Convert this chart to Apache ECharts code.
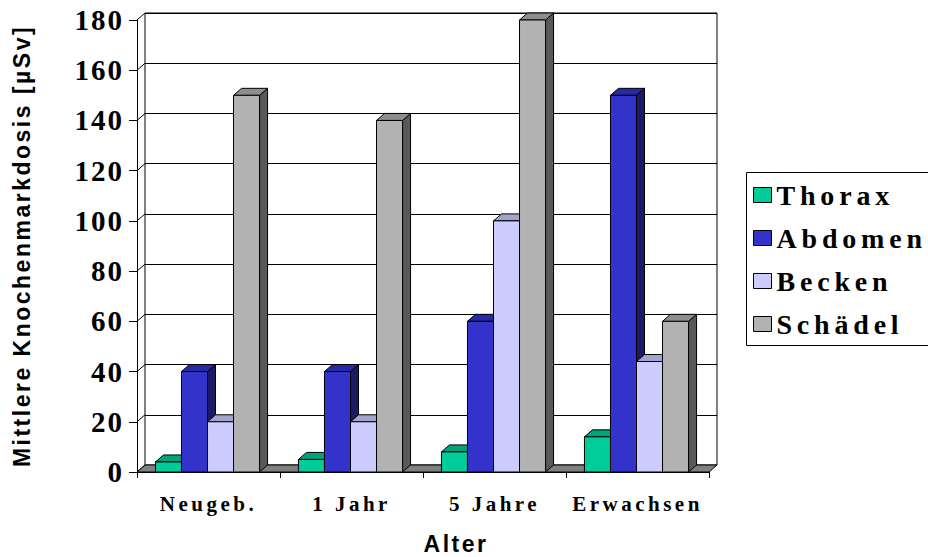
<!DOCTYPE html>
<html>
<head>
<meta charset="utf-8">
<script src="https://cdn.jsdelivr.net/npm/echarts@6/dist/echarts.min.js"></script>
<style>
  html, body { margin: 0; padding: 0; background: #fff; }
  #chart { width: 928px; height: 557px; }
</style>
</head>
<body>
<div id="chart"></div>
<script>
// Mean bone-marrow dose by age group and examined body region
const categories = ['Neugeb.', '1 Jahr', '5 Jahre', 'Erwachsen'];
const seriesNames = ['Thorax', 'Abdomen', 'Becken', 'Schädel'];
const thorax   = [4, 5, 8, 14];
const abdomen  = [40, 40, 60, 150];
const becken   = [20, 20, 100, 44];
const schaedel = [150, 140, 180, 60];
const yTicks = [0, 20, 40, 60, 80, 100, 120, 140, 160, 180];
const xTitle = 'Alter';
const yTitle = 'Mittlere Knochenmarkdosis [µSv]';

// face colours: front, top, side
const palette = [
  ['#00CC99', '#00A37A', '#00664C'],
  ['#3333CC', '#2929A3', '#1A1A66'],
  ['#CCCCFF', '#A3A3CC', '#666680'],
  ['#B2B2B2', '#8E8E8E', '#595959']
];
const values = [thorax, abdomen, becken, schaedel];

// depth offset of the pseudo-3D box
const DX = 8, DY = -7;
const BAR_RATIO = 0.182;

const serif = "'Liberation Serif', 'Times New Roman', serif";
const sans = "'Liberation Sans', Arial, sans-serif";

const chart = echarts.init(document.getElementById('chart'), null, { renderer: 'svg' });

function barRenderer(k) {
  return function (params, api) {
    const ci = api.value(0);
    const v = api.value(1);
    const band = api.size([1, 0])[0];
    const w = band * BAR_RATIO;
    const c = api.coord([ci, 0]);
    const t = api.coord([ci, v]);
    const x0 = c[0] - 2 * w - 1 + k * w;
    const x1 = x0 + w;
    const yb = c[1], yt = t[1];
    const cols = palette[k];
    const stroke = { stroke: '#000', lineWidth: 1 };
    return {
      type: 'group',
      children: [
        { type: 'polygon', shape: { points: [[x1, yt], [x1 + DX, yt + DY], [x1 + DX, yb + DY], [x1, yb]] },
          style: Object.assign({ fill: cols[2] }, stroke) },
        { type: 'polygon', shape: { points: [[x0, yt], [x1, yt], [x1 + DX, yt + DY], [x0 + DX, yt + DY]] },
          style: Object.assign({ fill: cols[1] }, stroke) },
        { type: 'rect', shape: { x: x0, y: yt, width: w, height: yb - yt },
          style: Object.assign({ fill: cols[0] }, stroke) }
      ]
    };
  };
}

const barSeries = seriesNames.map((name, k) => ({
  name: name,
  type: 'custom',
  xAxisIndex: 0, yAxisIndex: 0,
  itemStyle: { color: palette[k][0], borderColor: '#000', borderWidth: 1 },
  renderItem: barRenderer(k),
  encode: { x: 0, y: 1 },
  data: values[k].map((v, i) => [i, v]),
  z: 5 + k
}));

// floor slab under the columns
const floorSeries = {
  type: 'custom',
  xAxisIndex: 0, yAxisIndex: 0,
  silent: true,
  renderItem: function (params, api) {
    const band = api.size([1, 0])[0];
    const a = api.coord([0, 0]);
    const b = api.coord([categories.length - 1, 0]);
    const l = a[0] - band / 2, r = b[0] + band / 2, y = a[1];
    return {
      type: 'polygon',
      shape: { points: [[l, y], [r, y], [r + DX, y + DY], [l + DX, y + DY]] },
      style: { fill: '#808080', stroke: '#000', lineWidth: 1 }
    };
  },
  data: [[0, 0]],
  z: 3
};

// left side wall: lines running from each front tick to the back wall
const wallSeries = {
  type: 'custom',
  xAxisIndex: 0, yAxisIndex: 0,
  silent: true,
  renderItem: function (params, api) {
    const band = api.size([1, 0])[0];
    const p = api.coord([0, api.value(0)]);
    const x = p[0] - band / 2;
    return {
      type: 'line',
      shape: { x1: x, y1: p[1], x2: x + DX, y2: p[1] + DY },
      style: { stroke: '#000', lineWidth: 1 }
    };
  },
  data: yTicks.map(v => [v]),
  encode: { y: 0 },
  z: 2
};

chart.setOption({
  animation: false,
  backgroundColor: '#fff',
  grid: [
    { left: 137, top: 20, width: 572, height: 452, show: false, containLabel: false, outerBoundsMode: 'none' },
    { left: 145, top: 13, width: 572, height: 452, show: true, containLabel: false, outerBoundsMode: 'none',
      borderColor: '#000', borderWidth: 1, backgroundColor: 'transparent' }
  ],
  xAxis: [
    {
      gridIndex: 0, type: 'category', data: categories,
      boundaryGap: true,
      axisLine: { show: true, lineStyle: { color: '#000', width: 1 } },
      axisTick: { show: true, length: 6, lineStyle: { color: '#000' } },
      axisLabel: { margin: 21, color: '#000', fontFamily: serif, fontWeight: 'bold', fontSize: 21 },
      name: xTitle, nameLocation: 'middle', nameGap: 60,
      nameTextStyle: { color: '#000', fontFamily: sans, fontWeight: 'bold', fontSize: 23, padding: [0, 0, 0, 66] }
    },
    { gridIndex: 1, type: 'category', data: categories, show: false }
  ],
  yAxis: [
    {
      gridIndex: 0, type: 'value', min: 0, max: 180, interval: 20,
      axisLine: { show: true, lineStyle: { color: '#000', width: 1 } },
      axisTick: { show: true, inside: false, length: 8, lineStyle: { color: '#000' } },
      splitLine: { show: false },
      axisLabel: { margin: 13, color: '#000', fontFamily: serif, fontWeight: 'bold', fontSize: 29 },
      name: yTitle, nameLocation: 'middle', nameRotate: 90, nameGap: 104,
      nameTextStyle: { color: '#000', fontFamily: sans, fontWeight: 'bold', fontSize: 23 }
    },
    {
      gridIndex: 1, type: 'value', min: 0, max: 180, interval: 20,
      axisLine: { show: false }, axisTick: { show: false }, axisLabel: { show: false },
      splitLine: { show: true, lineStyle: { color: '#000', width: 1 } }
    }
  ],
  legend: {
    orient: 'vertical',
    left: 753, top: 181,
    padding: 0,
    itemGap: 15,
    itemWidth: 18, itemHeight: 15,
    icon: 'rect',
    itemStyle: { borderColor: '#000', borderWidth: 1 },
    selectedMode: false,
    textStyle: { color: '#000', fontFamily: serif, fontWeight: 'bold', fontSize: 28 },
    data: seriesNames
  },
  graphic: [
    { type: 'rect', left: 744, top: 170, shape: { width: 200, height: 173 },
      style: { fill: 'none', stroke: '#000', lineWidth: 1 }, silent: true }
  ],
  series: [floorSeries, wallSeries].concat(barSeries)
});

// spread the glyphs of the chart texts
const spacing = [
  [yTicks.map(String), 2],
  [categories, 3.5],
  [seriesNames, 4.8],
  [[xTitle], 2.5],
  [[yTitle], 2.5]
];
function spreadText() {
  document.querySelectorAll('#chart text').forEach(t => {
    const s = t.textContent;
    for (const [list, sp] of spacing) {
      if (list.indexOf(s) >= 0) { t.style.letterSpacing = sp + 'px'; break; }
    }
  });
}
chart.on('finished', spreadText);
spreadText();
</script>
</body>
</html>
